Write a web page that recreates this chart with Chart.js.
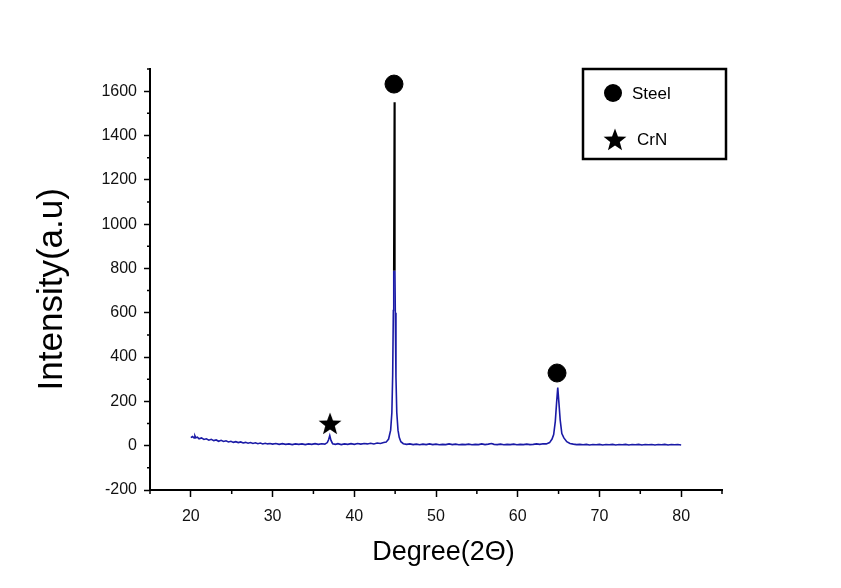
<!DOCTYPE html>
<html>
<head>
<meta charset="utf-8">
<script src="https://cdn.jsdelivr.net/npm/chart.js@4.4.1/dist/chart.umd.min.js"></script>
<style>
  body { margin: 0; background: #fff; }
  #wrap { width: 841px; height: 588px; }
</style>
</head>
<body>
<div id="wrap"><canvas id="chart"></canvas></div>
<script>
// XRD scan
const degrees = [
  20.0, 20.2, 20.4, 20.5, 20.6, 20.8, 21.0, 21.3, 21.6, 21.9, 22.2, 22.5, 22.8, 23.1, 23.4, 23.7,
  24.0, 24.3, 24.6, 24.9, 25.2, 25.5, 25.8, 26.1, 26.4, 26.7, 27.0, 27.3, 27.6, 27.9, 28.2, 28.5,
  28.8, 29.1, 29.4, 29.7, 30.0, 30.4, 30.8, 31.2, 31.6, 32.0, 32.4, 32.8, 33.2, 33.6, 34.0, 34.4,
  34.8, 35.2, 35.6, 36.0, 36.4, 36.7, 36.85, 37.0, 37.15, 37.35, 37.7, 38.0, 38.4, 38.8, 39.2, 39.6,
  40.0, 40.4, 40.8, 41.2, 41.6, 42.0, 42.4, 42.8, 43.2, 43.6, 43.9, 44.2, 44.45, 44.6, 44.7, 44.78,
  44.83, 44.9, 44.97, 45.02, 45.1, 45.2, 45.35, 45.5, 45.7, 46.0, 46.4, 46.8, 47.2, 47.6, 48.0, 48.4,
  48.8, 49.2, 49.6, 50.0, 50.4, 50.8, 51.2, 51.6, 52.0, 52.4, 52.8, 53.2, 53.6, 54.0, 54.4, 54.8,
  55.2, 55.6, 56.0, 56.4, 56.8, 57.1, 57.5, 57.9, 58.3, 58.7, 59.1, 59.5, 59.9, 60.3, 60.7, 61.1,
  61.5, 61.9, 62.3, 62.7, 63.1, 63.5, 63.9, 64.2, 64.4, 64.6, 64.75, 64.9, 65.05, 65.2, 65.4, 65.65,
  66.0, 66.4, 66.8, 67.2, 67.6, 68.0, 68.4, 68.8, 69.2, 69.6, 70.0, 70.4, 70.8, 71.2, 71.6, 72.0,
  72.4, 72.8, 73.2, 73.6, 74.0, 74.4, 74.8, 75.2, 75.6, 76.0, 76.4, 76.8, 77.2, 77.6, 78.0, 78.4,
  78.8, 79.2, 79.6, 80.0
];
const intensity = [
  36, 41, 35, 44, 36, 38, 31, 35, 28, 31, 25, 29, 23, 26, 20, 24,
  19, 22, 17, 20, 15, 18, 14, 17, 12, 15, 11, 14, 10, 13, 9, 12,
  8, 11, 8, 10, 7, 10, 6, 9, 6, 8, 5, 8, 6, 8, 5, 8,
  6, 9, 6, 9, 7, 14, 27, 46, 24, 9, 6, 9, 5, 8, 6, 9,
  6, 10, 7, 10, 8, 11, 8, 12, 10, 14, 16, 30, 70, 150, 320, 610,
  790, 1550, 790, 600, 310, 150, 70, 38, 18, 9, 6, 8, 5, 7, 4, 7,
  5, 8, 5, 7, 4, 6, 5, 8, 5, 7, 4, 6, 5, 7, 4, 6,
  5, 8, 5, 7, 10, 6, 5, 7, 4, 6, 5, 7, 4, 6, 5, 7,
  5, 6, 8, 6, 9, 8, 14, 30, 50, 110, 190, 262, 190, 115, 55, 35,
  18, 10, 7, 5, 6, 4, 6, 3, 5, 4, 6, 3, 5, 4, 6, 3,
  5, 4, 6, 3, 5, 4, 6, 3, 5, 4, 5, 3, 5, 4, 6, 3,
  5, 4, 5, 3
];

// peak markers
const steelX = [44.86, 64.81];
const steelY = [1632, 328];
const crnX = [37.03];
const crnY = [98];

// axes
const xTicks = [20, 30, 40, 50, 60, 70, 80];
const xMinorTicks = [15, 25, 35, 45, 55, 65, 75, 85];
const yTicks = [-200, 0, 200, 400, 600, 800, 1000, 1200, 1400, 1600];
const yMinorTicks = [-100, 100, 300, 500, 700, 900, 1100, 1300, 1500, 1700];

const BLUE = "#1a1aa6";

function makeStar(r) {
  const c = document.createElement("canvas");
  c.width = c.height = r * 2 + 2;
  const g = c.getContext("2d");
  g.beginPath();
  for (let i = 0; i < 10; i++) {
    const rad = i % 2 ? r * 0.42 : r;
    const a = -Math.PI / 2 + i * Math.PI / 5;
    g.lineTo(r + 1 + rad * Math.cos(a), r + 1.5 + rad * Math.sin(a));
  }
  g.closePath();
  g.fillStyle = "#000";
  g.fill();
  return c;
}
const starImg = makeStar(12);

// minor ticks + framed legend
const extras = {
  id: "extras",
  afterDraw(chart) {
    const { ctx, chartArea } = chart;
    const xs = chart.scales.x, ys = chart.scales.y;
    ctx.save();
    ctx.strokeStyle = "#000";
    ctx.lineWidth = 1.5;
    ctx.beginPath();
    xMinorTicks.forEach(v => {
      const px = xs.getPixelForValue(v);
      ctx.moveTo(px, chartArea.bottom);
      ctx.lineTo(px, chartArea.bottom + 4);
    });
    yMinorTicks.forEach(v => {
      const py = ys.getPixelForValue(v);
      ctx.moveTo(chartArea.left, py);
      ctx.lineTo(chartArea.left - 3, py);
    });
    ctx.stroke();

    // legend
    const lx = chartArea.right - 139, ly = chartArea.top;
    ctx.lineWidth = 2.5;
    ctx.strokeRect(lx, ly, 143, 90);
    ctx.fillStyle = "#000";
    ctx.beginPath();
    ctx.arc(lx + 30, ly + 24, 9, 0, Math.PI * 2);
    ctx.fill();
    ctx.drawImage(starImg, lx + 32 - 13, ly + 71 - 13);
    ctx.font = "17px 'Liberation Sans', Arial, sans-serif";
    ctx.textBaseline = "middle";
    ctx.fillText("Steel", lx + 49, ly + 25);
    ctx.fillText("CrN", lx + 54, ly + 71);
    ctx.restore();
  }
};

const tickFont = { family: "'Liberation Sans', Arial, sans-serif", size: 16 };

new Chart(document.getElementById("chart"), {
  type: "line",
  data: {
    datasets: [
      {
        data: degrees.map((d, i) => ({ x: d, y: intensity[i] })),
        borderColor: BLUE,
        borderWidth: 1.6,
        pointRadius: 0,
        tension: 0,
        segment: {
          borderColor: c => (c.p0.parsed.y >= 790 && c.p1.parsed.y >= 790) ? "#000" : BLUE
        }
      },
      {
        type: "scatter",
        data: steelX.map((d, i) => ({ x: d, y: steelY[i] })),
        pointStyle: "circle",
        pointRadius: 9,
        backgroundColor: "#000",
        borderColor: "#000"
      },
      {
        type: "scatter",
        data: crnX.map((d, i) => ({ x: d, y: crnY[i] })),
        pointStyle: starImg,
        pointRadius: 12
      }
    ]
  },
  options: {
    responsive: true,
    maintainAspectRatio: false,
    animation: false,
    layout: { padding: { left: 0, top: 69, right: 119, bottom: 0 } },
    plugins: { legend: { display: false }, tooltip: { enabled: false } },
    scales: {
      x: {
        type: "linear",
        min: 15,
        max: 85,
        afterBuildTicks: s => { s.ticks = xTicks.map(v => ({ value: v })); },
        afterFit: s => { s.height = 98; },
        border: { color: "#000", width: 2 },
        grid: { drawOnChartArea: false, tickLength: 7, tickColor: "#000", tickWidth: 1.5 },
        ticks: { color: "#111", font: tickFont, padding: 10, maxRotation: 0, callback: v => String(v) },
        title: {
          display: true,
          text: "  Degree(2\u0398)",
          color: "#000",
          font: { family: "'Liberation Sans', Arial, sans-serif", size: 27 },
          padding: { bottom: 19 }
        }
      },
      y: {
        min: -200,
        max: 1700,
        afterBuildTicks: s => { s.ticks = yTicks.map(v => ({ value: v })); },
        afterFit: s => { s.width = 150; },
        border: { color: "#000", width: 2 },
        grid: { drawOnChartArea: false, tickLength: 6, tickColor: "#000", tickWidth: 1.5 },
        ticks: { color: "#111", font: tickFont, padding: 7, callback: v => String(v) },
        title: {
          display: true,
          text: "Intensity(a.u)  ",
          color: "#000",
          font: { family: "'Liberation Sans', Arial, sans-serif", size: 35 },
          padding: { top: 31 }
        }
      }
    }
  },
  plugins: [extras]
});
</script>
</body>
</html>
